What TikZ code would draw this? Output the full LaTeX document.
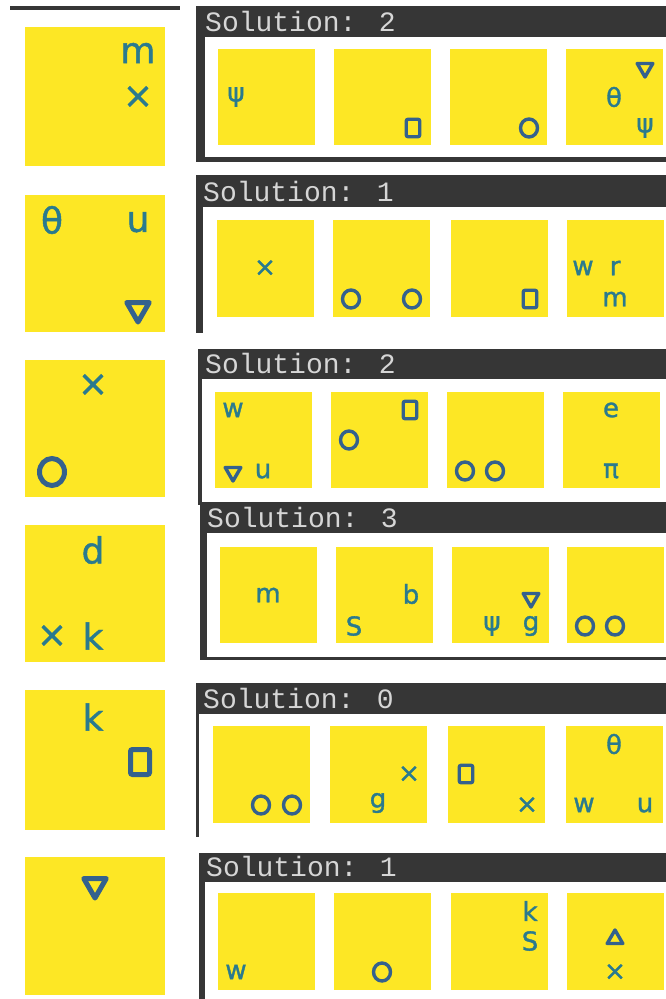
\documentclass[tikz,border=0pt]{standalone}
\usepackage{fontspec}
\usetikzlibrary{shapes.geometric}
\newfontfamily\glyphfont[FakeBold=1.3]{DejaVu Sans}
\newfontfamily\headfont{Liberation Mono}
\definecolor{tileyellow}{HTML}{FDE725}
\definecolor{glyphteal}{HTML}{2A7A8E}
\definecolor{shapeblue}{HTML}{34618D}
\definecolor{paneldark}{HTML}{363636}
\definecolor{headtext}{HTML}{D6D6D6}

\begin{document}
\begin{tikzpicture}[x=1pt, y=-1pt,
    tile/.style={fill=tileyellow},
    frame/.style={fill=paneldark},
    title/.style={anchor=base west, inner sep=0pt, text=headtext,
      font=\headfont\fontsize{28}{28}\selectfont},
    isym/.style={inner sep=0pt, text=glyphteal, font=\glyphfont\fontsize{26}{26}\selectfont},
    lsym/.style={inner sep=0pt, text=glyphteal, font=\glyphfont\fontsize{36}{36}\selectfont},
    ring/.style={draw=shapeblue, ellipse, inner sep=0pt, line width=3.4pt,
      minimum width=17pt, minimum height=18pt},
    lring/.style={ring, line width=5pt, minimum width=25pt, minimum height=27pt},
    box/.style={draw=shapeblue, rectangle, rounded corners=2pt, inner sep=0pt,
      line width=3.4pt, minimum width=13.5pt, minimum height=17.5pt},
    lbox/.style={box, line width=5pt, minimum width=19pt, minimum height=25pt},
    tdown/.style={draw=shapeblue, regular polygon, regular polygon sides=3,
      shape border rotate=180, inner sep=0pt, line width=3.4pt, line join=round,
      minimum size=18pt},
    ltdown/.style={tdown, line width=5pt, minimum size=26pt},
    tup/.style={tdown, shape border rotate=0}]

  \useasboundingbox (0,0) rectangle (666,999);

  % rule above the left column
  \draw[line width=4pt, paneldark] (10,8) -- (180,8);

  % ---------- row 1 ----------
  \fill[tile] (25,27) rectangle (165,166);
  \node[lsym] (l1a) at (138,53) {m};
  \node[lsym] (l1b) at (138,97) {×};

  \fill[frame] (196,6) rectangle (666,37);
  \fill[frame] (196,37) rectangle (205,162);
  \fill[frame] (196,157) rectangle (666,162);
  \node[title] (t1) at (205,31) {Solution: 2};
  \foreach \x in {218,334,450,566}
    \fill[tile] (\x,49) rectangle ++(97,96);
  \node[isym] (s11a) at (236,97) {ψ};
  \node[box] (s12a) at (413,128) {};
  \node[ring] (s13a) at (529,128) {};
  \node[tdown] (s14a) at (645,68) {};
  \node[isym] (s14b) at (614,97) {θ};
  \node[isym] (s14c) at (645,128) {ψ};

  % ---------- row 2 ----------
  \fill[tile] (25,195) rectangle (165,332);
  \node[lsym] (l2a) at (52,220) {θ};
  \node[lsym] (l2b) at (138,222) {u};
  \node[ltdown] (l2c) at (138,309) {};

  \fill[frame] (196,175) rectangle (666,207);
  \fill[frame] (196,207) rectangle (203,333);
  \node[title] (t2) at (203,201) {Solution: 1};
  \foreach \x in {217,333,451,567}
    \fill[tile] (\x,220) rectangle ++(97,97);
  \node[isym] (s21a) at (265,268) {×};
  \node[ring] (s22a) at (351,299) {};
  \node[ring] (s22b) at (412,299) {};
  \node[box] (s23a) at (530,299) {};
  \node[isym] (s24a) at (583,268) {w};
  \node[isym] (s24b) at (615,268) {r};
  \node[isym] (s24c) at (615,299) {m};

  % ---------- row 3 ----------
  \fill[tile] (25,360) rectangle (165,497);
  \node[lsym] (l3a) at (93,385) {×};
  \node[lring] (l3b) at (52,472) {};

  \fill[frame] (198,349) rectangle (666,379);
  \fill[frame] (198,379) rectangle (202,505);
  \fill[frame] (198,502) rectangle (666,505);
  \node[title] (t3) at (205,373) {Solution: 2};
  \foreach \x in {215,331,447,563}
    \fill[tile] (\x,392) rectangle ++(97,96);
  \node[isym] (s31a) at (233,410) {w};
  \node[tdown] (s31b) at (233,472) {};
  \node[isym] (s31c) at (263,471) {u};
  \node[box] (s32a) at (410,410) {};
  \node[ring] (s32b) at (349,440) {};
  \node[ring] (s33a) at (465,471) {};
  \node[ring] (s33b) at (495,471) {};
  \node[isym] (s34a) at (611,410) {e};
  \node[isym] (s34b) at (611,471) {π};

  % ---------- row 4 ----------
  \fill[tile] (25,525) rectangle (165,662);
  \node[lsym] (l4a) at (93,550) {d};
  \node[lsym] (l4b) at (52,636) {×};
  \node[lsym] (l4c) at (93,636) {k};

  \fill[frame] (200,505) rectangle (666,533);
  \fill[frame] (200,533) rectangle (207,660);
  \fill[frame] (200,657) rectangle (666,660);
  \node[title] (t4) at (207,527) {Solution: 3};
  \foreach \x in {220,336,452,567}
    \fill[tile] (\x,547) rectangle ++(97,96);
  \node[isym] (s41a) at (268,595) {m};
  \node[isym] (s42a) at (411,594) {b};
  \node[isym] (s42b) at (354,626) {S};
  \node[tdown] (s43a) at (531,598) {};
  \node[isym] (s43b) at (492,626) {ψ};
  \node[isym] (s43c) at (531,626) {g};
  \node[ring] (s44a) at (585,626) {};
  \node[ring] (s44b) at (615,626) {};

  % ---------- row 5 ----------
  \fill[tile] (25,690) rectangle (165,830);
  \node[lsym] (l5a) at (93,717) {k};
  \node[lbox] (l5b) at (140,762) {};

  \fill[frame] (196,683) rectangle (666,714);
  \fill[frame] (196,714) rectangle (199,837);
  \node[title] (t5) at (203,708) {Solution: 0};
  \foreach \x in {213,330,448,566}
    \fill[tile] (\x,726) rectangle ++(97,97);
  \node[ring] (s51a) at (261,805) {};
  \node[ring] (s51b) at (292,805) {};
  \node[isym] (s52a) at (409,774) {×};
  \node[isym] (s52b) at (378,803) {g};
  \node[box] (s53a) at (466,774) {};
  \node[isym] (s53b) at (527,805) {×};
  \node[isym] (s54a) at (614,744) {θ};
  \node[isym] (s54b) at (584,805) {w};
  \node[isym] (s54c) at (645,805) {u};

  % ---------- row 6 ----------
  \fill[tile] (25,857) rectangle (165,995);
  \node[ltdown] (l6a) at (95,885) {};

  \fill[frame] (199,853) rectangle (666,882);
  \fill[frame] (199,882) rectangle (205,999);
  \node[title] (t6) at (206,876) {Solution: 1};
  \foreach \x in {218,334,451,567}
    \fill[tile] (\x,893) rectangle ++(97,97);
  \node[isym] (s61a) at (236,972) {w};
  \node[ring] (s62a) at (382,972) {};
  \node[isym] (s63a) at (530,911) {k};
  \node[isym] (s63b) at (530,941) {S};
  \node[tup] (s64a) at (615,939) {};
  \node[isym] (s64b) at (615,972) {×};
\end{tikzpicture}
\end{document}
